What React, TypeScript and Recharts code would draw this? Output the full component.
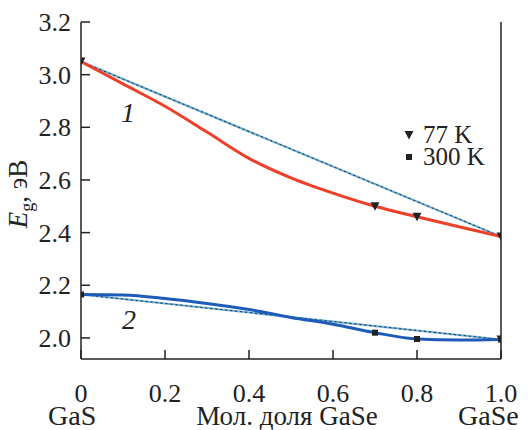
import React from 'react';
import { LineChart, Line, XAxis, YAxis, Scatter, ReferenceLine, ReferenceDot, Legend, Label } from 'recharts';

const xTicks = [0, 0.2, 0.4, 0.6, 0.8, 1.0];
const yTicks = [2.0, 2.2, 2.4, 2.6, 2.8, 3.0, 3.2];

const curve1 = [
  { x: 0, y: 3.05 }, { x: 0.1, y: 2.965 }, { x: 0.2, y: 2.88 }, { x: 0.3, y: 2.782 },
  { x: 0.4, y: 2.682 }, { x: 0.5, y: 2.608 }, { x: 0.6, y: 2.55 }, { x: 0.7, y: 2.5 },
  { x: 0.8, y: 2.46 }, { x: 0.9, y: 2.422 }, { x: 1.0, y: 2.385 },
];
const curve2 = [
  { x: 0, y: 2.165 }, { x: 0.1, y: 2.163 }, { x: 0.2, y: 2.15 }, { x: 0.3, y: 2.131 },
  { x: 0.4, y: 2.108 }, { x: 0.5, y: 2.078 }, { x: 0.6, y: 2.052 }, { x: 0.7, y: 2.02 },
  { x: 0.8, y: 1.996 }, { x: 0.9, y: 1.992 }, { x: 1.0, y: 1.994 },
];
const linear1 = [{ x: 0, y: 3.05 }, { x: 1.0, y: 2.385 }];
const linear2 = [{ x: 0, y: 2.165 }, { x: 1.0, y: 1.994 }];

const points77 = [
  { x: 0, y: 3.05 }, { x: 0.7, y: 2.5 }, { x: 0.8, y: 2.46 }, { x: 1.0, y: 2.385 },
  { x: 1.0, y: 1.994 },
];
const points300 = [
  { x: 0, y: 2.165 }, { x: 0.7, y: 2.02 }, { x: 0.8, y: 1.996 }, { x: 1.0, y: 1.994 },
];
const legendNames = ['77 K', '300 K'];

const FONT = "'Liberation Serif', 'Times New Roman', serif";
const RED = '#ee4028';
const BLUE = '#1f5cb8';
const LIGHT = '#6aaed6';
const DARK = '#1c2b3a';

const TriDown = (props: any) => {
  const { cx, cy } = props;
  return <polygon points={`${cx - 4.5},${cy - 4} ${cx + 4.5},${cy - 4} ${cx},${cy + 4.5}`} fill="#222" />;
};
const Sq = (props: any) => {
  const { cx, cy } = props;
  return <rect x={cx - 3} y={cy - 3} width={6} height={6} fill="#222" />;
};

const XTick = (props: any) => {
  const { x, y, payload } = props;
  const v = payload.value;
  const label = v === 0 ? '0' : v.toFixed(1);
  return (
    <text x={x} y={y} dy={20} textAnchor="middle" style={{ fontFamily: FONT, fontSize: 26 }} fill="#222">
      {label}
    </text>
  );
};

const YTick = (props: any) => {
  const { x, y, payload } = props;
  return (
    <text x={x} y={y} dy={9} textAnchor="end" style={{ fontFamily: FONT, fontSize: 26 }} fill="#222">
      {payload.value.toFixed(1)}
    </text>
  );
};

const XLabel = () => (
  <g style={{ fontFamily: FONT }} fill="#222">
    <text x={48} y={425} style={{ fontSize: 28 }}>GaS</text>
    <text x={287} y={425} style={{ fontSize: 27 }} textAnchor="middle">Мол. доля GaSe</text>
    <text x={458} y={425} style={{ fontSize: 28 }}>GaSe</text>
  </g>
);

const YLabel = () => (
  <text
    x={0}
    y={0}
    transform="translate(27,194) rotate(-90)"
    textAnchor="middle"
    style={{ fontFamily: FONT, fontSize: 27 }}
    fill="#222"
  >
    <tspan fontStyle="italic">E</tspan>
    <tspan style={{ fontSize: 18 }} dy={6}>g</tspan>
    <tspan dy={-6}>, эВ</tspan>
  </text>
);

const LegendContent = () => (
  <div style={{ fontFamily: FONT, fontSize: 25, color: '#222' }}>
    {legendNames.map((name, i) => (
      <div key={name} style={{ display: 'flex', alignItems: 'center', height: 22, lineHeight: '22px' }}>
        <svg width={23} height={22}>
          {i === 0 ? (
            <polygon points="4.5,7 13.5,7 9,15.5" fill="#222" />
          ) : (
            <rect x={6} y={8} width={6} height={6} fill="#222" />
          )}
        </svg>
        <span>{name}</span>
      </div>
    ))}
  </div>
);

export default function App() {
  return (
    <div style={{ position: 'absolute', left: 0, top: 0, background: '#fff' }}>
      <LineChart width={532} height={430} margin={{ top: 22, right: 31, bottom: 0, left: 0 }}>
        <XAxis
          type="number"
          dataKey="x"
          domain={[0, 1]}
          ticks={xTicks}
          height={71}
          tickSize={-9}
          tickMargin={32}
          tick={<XTick />}
          stroke="#222"
          strokeWidth={1.5}
          allowDataOverflow
        >
          <Label content={<XLabel />} />
        </XAxis>
        <YAxis
          type="number"
          dataKey="y"
          domain={[1.92, 3.2]}
          ticks={yTicks}
          width={81}
          tickSize={-9}
          tickMargin={19}
          tick={<YTick />}
          stroke="#222"
          strokeWidth={1.5}
          allowDataOverflow
        >
          <Label content={<YLabel />} />
        </YAxis>
        <ReferenceLine x={1} stroke="#222" strokeWidth={1.5} />
        <Line data={linear1} dataKey="y" type="linear" stroke={LIGHT} strokeWidth={2.2} dot={false} legendType="none" isAnimationActive={false} />
        <Line data={linear1} dataKey="y" type="linear" stroke={DARK} strokeWidth={1} strokeDasharray="2 3" dot={false} legendType="none" isAnimationActive={false} />
        <Line data={linear2} dataKey="y" type="linear" stroke={LIGHT} strokeWidth={2.2} dot={false} legendType="none" isAnimationActive={false} />
        <Line data={linear2} dataKey="y" type="linear" stroke={DARK} strokeWidth={1} strokeDasharray="2 3" dot={false} legendType="none" isAnimationActive={false} />
        <Line data={curve1} dataKey="y" type="monotone" stroke={RED} strokeWidth={3} dot={false} legendType="none" isAnimationActive={false} />
        <Line data={curve2} dataKey="y" type="monotone" stroke={BLUE} strokeWidth={3} dot={false} legendType="none" isAnimationActive={false} />
        <Scatter name="77 K" data={points77} dataKey="y" shape={<TriDown />} isAnimationActive={false} />
        <Scatter name="300 K" data={points300} dataKey="y" shape={<Sq />} isAnimationActive={false} />
        <ReferenceDot x={0.112} y={2.858} r={0} fill="none" stroke="none">
          <Label value="1" position="center" style={{ fontFamily: FONT, fontSize: 28, fontStyle: 'italic' }} fill="#222" />
        </ReferenceDot>
        <ReferenceDot x={0.114} y={2.072} r={0} fill="none" stroke="none">
          <Label value="2" position="center" style={{ fontFamily: FONT, fontSize: 28, fontStyle: 'italic' }} fill="#222" />
        </ReferenceDot>
        <Legend
          content={<LegendContent />}
          layout="vertical"
          align="center"
          verticalAlign="middle"
          wrapperStyle={{ position: 'absolute', left: 400, top: 124, width: 130, height: 44 }}
        />
      </LineChart>
    </div>
  );
}
